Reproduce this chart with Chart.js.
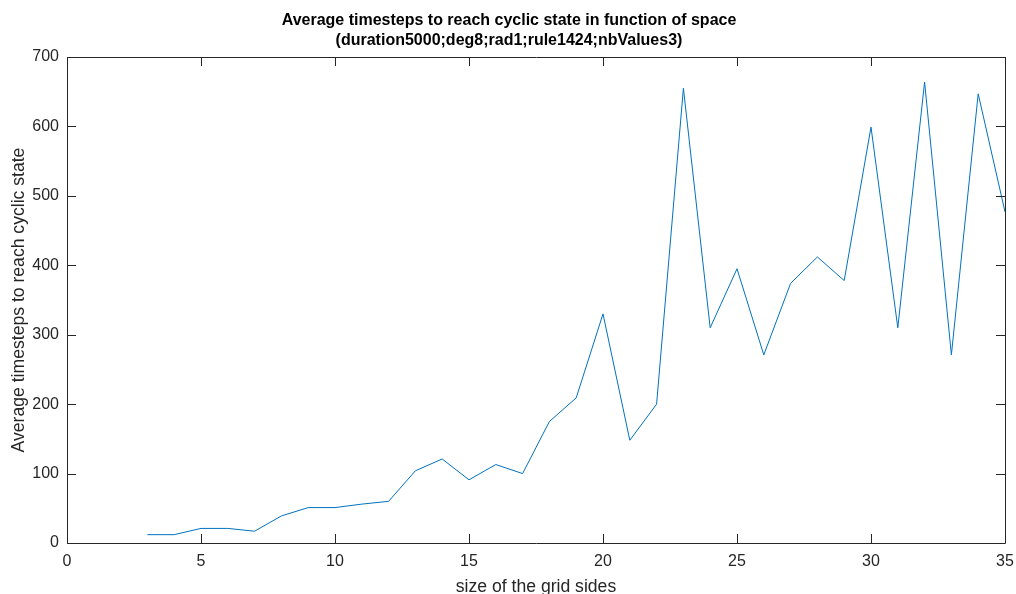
<!DOCTYPE html>
<html>
<head>
<meta charset="utf-8">
<script src="https://cdn.jsdelivr.net/npm/chart.js@4/dist/chart.umd.min.js"></script>
<style>
  html, body { margin: 0; padding: 0; background: #fff; }
  #wrap { width: 1016px; height: 594px; }
</style>
</head>
<body>
<div id="wrap"><canvas id="plotCanvas" width="1016" height="594"></canvas></div>
<script>
// grid side sizes and average timesteps
const gridSizes = [3, 4, 5, 6, 7, 8, 9, 10, 11, 12, 13, 14, 15, 16, 17, 18, 19,
  20, 21, 22, 23, 24, 25, 26, 27, 28, 29, 30, 31, 32, 33, 34, 35];
const avgTimesteps = [12, 12, 21, 21, 17, 39, 51, 51, 56, 60, 104, 121, 91, 113, 100, 175, 209,
  330, 148, 200, 655, 310, 395, 271, 374, 412, 378, 599, 310, 664, 271, 647, 477];
const xTicks = [0, 5, 10, 15, 20, 25, 30, 35];
const yTicks = [0, 100, 200, 300, 400, 500, 600, 700];

const titleLines = ["Average timesteps to reach cyclic state in function of space",
  "(duration5000;deg8;rad1;rule1424;nbValues3)"];
const textColor = "#262626";

// matlab style box with ticks pointing inward
const boxPlugin = {
  id: "matlabBox",
  afterDraw(chart) {
    const ctx = chart.ctx;
    const a = chart.chartArea;
    const xs = chart.scales.x, ys = chart.scales.y;
    const len = 9;
    ctx.save();
    ctx.strokeStyle = textColor;
    ctx.lineWidth = 1;
    ctx.beginPath();
    ctx.rect(Math.round(a.left) + 0.5, Math.round(a.top) + 0.5,
      Math.round(a.right - a.left), Math.round(a.bottom - a.top));
    xTicks.forEach(function (v) {
      const px = Math.round(xs.getPixelForValue(v)) + 0.5;
      ctx.moveTo(px, a.bottom); ctx.lineTo(px, a.bottom - len);
      ctx.moveTo(px, a.top); ctx.lineTo(px, a.top + len);
    });
    yTicks.forEach(function (v) {
      const py = Math.round(ys.getPixelForValue(v)) + 0.5;
      ctx.moveTo(a.left, py); ctx.lineTo(a.left + len, py);
      ctx.moveTo(a.right, py); ctx.lineTo(a.right - len, py);
    });
    ctx.stroke();
    ctx.restore();
  }
};

const ctx = document.getElementById("plotCanvas").getContext("2d");
const chart = new Chart(ctx, {
  type: "line",
  data: {
    datasets: [{
      data: gridSizes.map(function (s, i) { return { x: s, y: avgTimesteps[i] }; }),
      borderColor: "#0072BD",
      borderWidth: 1,
      pointRadius: 0,
      tension: 0,
      fill: false
    }]
  },
  options: {
    responsive: false,
    animation: false,
    layout: { padding: { left: 13, top: 0, bottom: 0, right: 11 } },
    plugins: {
      legend: { display: false },
      tooltip: { enabled: false },
      title: {
        display: true,
        text: titleLines,
        color: "#000",
        font: { family: "'Liberation Sans Narrow', 'Liberation Sans', Arial, sans-serif", size: 16, weight: "bold", lineHeight: 1.25 },
        padding: { top: 11, bottom: 6 }
      }
    },
    scales: {
      x: {
        type: "linear",
        min: 0,
        max: 35,
        afterBuildTicks: function (scale) { scale.ticks = xTicks.map(function (v) { return { value: v }; }); },
        afterFit: function (scale) {
          scale.height = 51;
          scale.paddingLeft = 0;
          scale.paddingRight = 0;
        },
        grid: { display: false, drawTicks: false },
        border: { display: false },
        ticks: {
          color: textColor,
          padding: 9,
          maxRotation: 0,
          font: { family: "'Liberation Sans', Arial, sans-serif", size: 16 }
        },
        title: {
          display: true,
          text: "size of the grid sides",
          color: textColor,
          font: { family: "'Liberation Sans', Arial, sans-serif", size: 17.6, lineHeight: 0.83 },
          padding: { top: 0, bottom: 0 }
        }
      },
      y: {
        type: "linear",
        min: 0,
        max: 700,
        afterBuildTicks: function (scale) { scale.ticks = yTicks.map(function (v) { return { value: v }; }); },
        afterFit: function (scale) { scale.width = 54; },
        grid: { display: false, drawTicks: false },
        border: { display: false },
        ticks: {
          color: textColor,
          padding: 8,
          font: { family: "'Liberation Sans', Arial, sans-serif", size: 16 }
        },
        title: {
          display: true,
          text: "Average timesteps to reach cyclic state",
          color: textColor,
          font: { family: "'Liberation Sans', Arial, sans-serif", size: 17.6, lineHeight: 0.74 },
          padding: { top: 0, bottom: 0 }
        }
      }
    }
  },
  plugins: [boxPlugin]
});
</script>
</body>
</html>
